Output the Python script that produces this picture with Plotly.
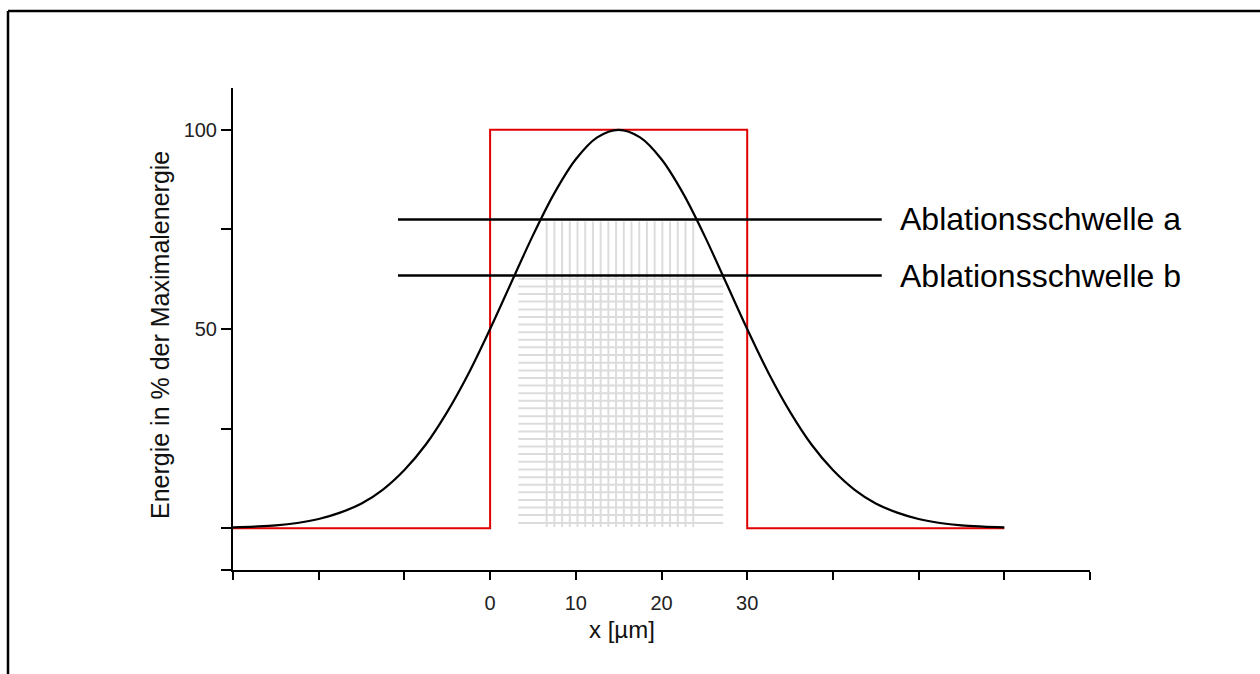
import plotly.graph_objects as go

# Gaussian energy profile
gauss_x = [-30, -27.5, -25, -22.5, -20, -17.5, -15, -12.5, -10, -7.5, -5, -2.5, 0, 2.5, 5, 7.5,
           10, 12.5, 15, 17.5, 20, 22.5, 25, 27.5, 30, 32.5, 35, 37.5, 40, 42.5, 45, 47.5,
           50, 52.5, 55, 57.5, 60]
gauss_y = [0.2, 0.4, 0.7, 1.3, 2.3, 3.9, 6.2, 9.7, 14.6, 21.0, 29.2, 38.9, 50, 61.8, 73.5, 84.1,
           92.6, 98.1, 100, 98.1, 92.6, 84.1, 73.5, 61.8, 50, 38.9, 29.2, 21.0, 14.6, 9.7, 6.2, 3.9,
           2.3, 1.3, 0.7, 0.4, 0.2]

# Top-hat (rectangular) profile
rect_x = [-30, 0, 0, 30, 30, 60]
rect_y = [0, 0, 100, 100, 0, 0]

# Ablation thresholds
thresh_names = ["Ablationsschwelle a", "Ablationsschwelle b"]
thresh_y = [77.5, 63.4]
thresh_x = [-10.75, 45.7]

# Hatching (ablated zones)
hatch_v_x = [6.6, 7.5, 8.4, 9.3, 10.2, 11.1, 12.0, 12.9, 13.8, 14.7, 15.6, 16.5, 17.4, 18.3,
             19.2, 20.1, 21.0, 21.9, 22.8, 23.7]
hatch_v_span = [0.3, 77.0]
hatch_h_y = [62.6, 60.7, 58.8, 56.9, 54.9, 53.0, 51.1, 49.2, 47.3, 45.4, 43.5, 41.5, 39.6, 37.7,
             35.8, 33.9, 32.0, 30.1, 28.1, 26.2, 24.3, 22.4, 20.5, 18.6, 16.7, 14.7, 12.8, 10.9,
             9.0, 7.1, 5.2, 3.3, 1.3]
hatch_h_span = [3.3, 27.2]

x_tickvals = [-30, -20, -10, 0, 10, 20, 30, 40, 50, 60, 70]
x_ticktext = ["", "", "", "0", "10", "20", "30", "", "", "", ""]
y_tickvals = [-10.5, 0, 25, 50, 75, 100]
y_ticktext = ["", "", "", "50", "", "100"]

FONT = "Liberation Sans, Arial, sans-serif"

fig = go.Figure()

hx, hy = [], []
for yv in hatch_h_y:
    hx += [hatch_h_span[0], hatch_h_span[1], None]
    hy += [yv, yv, None]
fig.add_trace(go.Scatter(x=hx, y=hy, mode="lines", line=dict(color="#dcdcdc", width=2),
                         hoverinfo="skip", showlegend=False))
vx, vy = [], []
for xv in hatch_v_x:
    vx += [xv, xv, None]
    vy += [hatch_v_span[0], hatch_v_span[1], None]
fig.add_trace(go.Scatter(x=vx, y=vy, mode="lines", line=dict(color="#dcdcdc", width=2),
                         hoverinfo="skip", showlegend=False))

fig.add_trace(go.Scatter(x=rect_x, y=rect_y, mode="lines", line=dict(color="#e00000", width=2),
                         showlegend=False))
fig.add_trace(go.Scatter(x=gauss_x, y=gauss_y, mode="lines", line=dict(color="black", width=2.2, shape="spline"),
                         showlegend=False))

for name, yv in zip(thresh_names, thresh_y):
    fig.add_trace(go.Scatter(x=thresh_x, y=[yv, yv], mode="lines", line=dict(color="black", width=2.5),
                             showlegend=False))
    fig.add_annotation(x=47.55, y=yv, xref="x", yref="y", text=name, showarrow=False,
                       xanchor="left", yanchor="middle", font=dict(family=FONT, size=32, color="black"))

fig.update_xaxes(range=[-30, 70], showgrid=False, zeroline=False, showline=True, linecolor="black",
                 linewidth=2, ticks="outside", ticklen=8, tickwidth=2, tickcolor="black",
                 tickvals=x_tickvals, ticktext=x_ticktext, ticklabelstandoff=6,
                 tickfont=dict(family=FONT, size=20, color="#222"))
fig.update_yaxes(range=[-10.5, 110.5], showgrid=False, zeroline=False, showline=True, linecolor="black",
                 linewidth=2, ticks="outside", ticklen=10, tickwidth=2, tickcolor="black",
                 tickvals=y_tickvals, ticktext=y_ticktext,
                 tickfont=dict(family=FONT, size=20, color="#222"))

# axis titles
fig.add_annotation(x=(622 - 233) / 857, y=(570 - 629) / 482, xref="paper", yref="paper",
                   text="x [µm]", showarrow=False, xanchor="center", yanchor="middle",
                   font=dict(family=FONT, size=24, color="#111"))
fig.add_annotation(x=(160 - 233) / 857, y=(570 - 335) / 482, xref="paper", yref="paper",
                   text="Energie in % der Maximalenergie", showarrow=False, textangle=-90,
                   xanchor="center", yanchor="middle",
                   font=dict(family=FONT, size=25, color="#111"))

# outer frame: only top and left edges are inside the picture
fx0 = (8 - 233) / 857
fy1 = (570 - 11) / 482
fig.add_shape(type="line", xref="paper", yref="paper", x0=fx0, x1=1.6, y0=fy1, y1=fy1,
              line=dict(color="black", width=2.5), layer="above")
fig.add_shape(type="line", xref="paper", yref="paper", x0=fx0, x1=fx0, y0=-0.4, y1=fy1,
              line=dict(color="black", width=2.5), layer="above")

fig.update_layout(width=1260, height=674, margin=dict(l=233, r=170, t=88, b=104),
                  plot_bgcolor="white", paper_bgcolor="white", showlegend=False)

fig.write_html("out.html")
